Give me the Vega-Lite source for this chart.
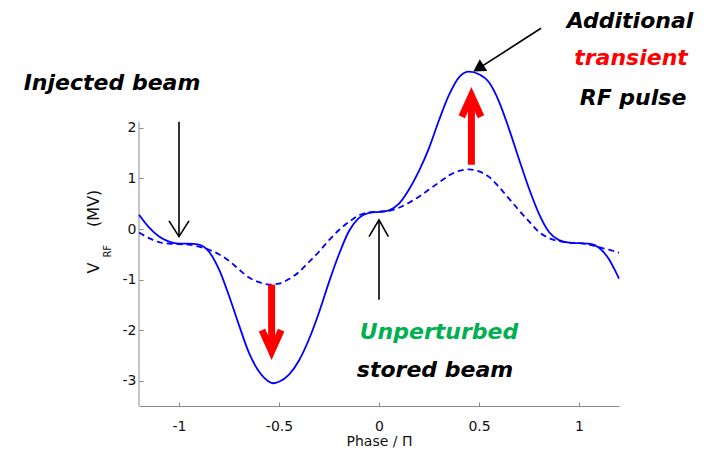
{
  "$schema": "https://vega.github.io/schema/vega-lite/v6.json",
  "width": 480,
  "height": 354,
  "autosize": {"type": "none"},
  "padding": {"left": 139, "top": 52, "right": 90, "bottom": 49},
  "background": "white",
  "config": {
    "view": {"stroke": null},
    "axis": {"grid": false, "labelFont": "DejaVu Sans", "titleFont": "DejaVu Sans", "labelColor": "#111", "titleColor": "#111", "labelFontSize": 14, "titleFontSize": 14, "titleFontWeight": "normal", "domainColor": "#8a8a8a", "tickColor": "#8a8a8a"}
  },
  "datasets": {
    "curves": [
      {"x": -1.2, "y": 0.28, "s": "solid"}, {"x": -1.15, "y": 0.03, "s": "solid"}, {"x": -1.1, "y": -0.15, "s": "solid"}, {"x": -1.05, "y": -0.25, "s": "solid"}, {"x": -1.0, "y": -0.29, "s": "solid"}, {"x": -0.95, "y": -0.29, "s": "solid"}, {"x": -0.9, "y": -0.31, "s": "solid"}, {"x": -0.85, "y": -0.45, "s": "solid"}, {"x": -0.8, "y": -0.8, "s": "solid"}, {"x": -0.75, "y": -1.32, "s": "solid"}, {"x": -0.7, "y": -1.9, "s": "solid"}, {"x": -0.65, "y": -2.45, "s": "solid"}, {"x": -0.6, "y": -2.82, "s": "solid"}, {"x": -0.55, "y": -3.02, "s": "solid"}, {"x": -0.53, "y": -3.05, "s": "solid"}, {"x": -0.5, "y": -3.02, "s": "solid"}, {"x": -0.45, "y": -2.88, "s": "solid"}, {"x": -0.4, "y": -2.6, "s": "solid"}, {"x": -0.35, "y": -2.18, "s": "solid"}, {"x": -0.3, "y": -1.65, "s": "solid"}, {"x": -0.25, "y": -1.05, "s": "solid"}, {"x": -0.2, "y": -0.5, "s": "solid"}, {"x": -0.15, "y": -0.04, "s": "solid"}, {"x": -0.1, "y": 0.22, "s": "solid"}, {"x": -0.05, "y": 0.32, "s": "solid"}, {"x": 0.0, "y": 0.34, "s": "solid"}, {"x": 0.05, "y": 0.37, "s": "solid"}, {"x": 0.1, "y": 0.5, "s": "solid"}, {"x": 0.15, "y": 0.78, "s": "solid"}, {"x": 0.2, "y": 1.15, "s": "solid"}, {"x": 0.25, "y": 1.6, "s": "solid"}, {"x": 0.3, "y": 2.15, "s": "solid"}, {"x": 0.35, "y": 2.65, "s": "solid"}, {"x": 0.4, "y": 3.0, "s": "solid"}, {"x": 0.45, "y": 3.11, "s": "solid"}, {"x": 0.5, "y": 3.06, "s": "solid"}, {"x": 0.55, "y": 2.9, "s": "solid"}, {"x": 0.6, "y": 2.52, "s": "solid"}, {"x": 0.65, "y": 1.98, "s": "solid"}, {"x": 0.7, "y": 1.38, "s": "solid"}, {"x": 0.75, "y": 0.8, "s": "solid"}, {"x": 0.8, "y": 0.3, "s": "solid"}, {"x": 0.85, "y": -0.06, "s": "solid"}, {"x": 0.9, "y": -0.22, "s": "solid"}, {"x": 0.95, "y": -0.27, "s": "solid"}, {"x": 1.0, "y": -0.28, "s": "solid"}, {"x": 1.05, "y": -0.29, "s": "solid"}, {"x": 1.1, "y": -0.37, "s": "solid"}, {"x": 1.15, "y": -0.6, "s": "solid"}, {"x": 1.175, "y": -0.78, "s": "solid"}, {"x": 1.2, "y": -0.98, "s": "solid"},
      {"x": -1.2, "y": -0.07, "s": "dashed"}, {"x": -1.15, "y": -0.18, "s": "dashed"}, {"x": -1.1, "y": -0.26, "s": "dashed"}, {"x": -1.05, "y": -0.29, "s": "dashed"}, {"x": -1.0, "y": -0.3, "s": "dashed"}, {"x": -0.95, "y": -0.31, "s": "dashed"}, {"x": -0.9, "y": -0.35, "s": "dashed"}, {"x": -0.85, "y": -0.41, "s": "dashed"}, {"x": -0.8, "y": -0.5, "s": "dashed"}, {"x": -0.75, "y": -0.63, "s": "dashed"}, {"x": -0.7, "y": -0.8, "s": "dashed"}, {"x": -0.65, "y": -0.96, "s": "dashed"}, {"x": -0.6, "y": -1.05, "s": "dashed"}, {"x": -0.55, "y": -1.1, "s": "dashed"}, {"x": -0.5, "y": -1.08, "s": "dashed"}, {"x": -0.45, "y": -0.99, "s": "dashed"}, {"x": -0.4, "y": -0.85, "s": "dashed"}, {"x": -0.35, "y": -0.65, "s": "dashed"}, {"x": -0.3, "y": -0.45, "s": "dashed"}, {"x": -0.25, "y": -0.22, "s": "dashed"}, {"x": -0.2, "y": -0.02, "s": "dashed"}, {"x": -0.15, "y": 0.14, "s": "dashed"}, {"x": -0.1, "y": 0.27, "s": "dashed"}, {"x": -0.05, "y": 0.33, "s": "dashed"}, {"x": 0.0, "y": 0.34, "s": "dashed"}, {"x": 0.05, "y": 0.36, "s": "dashed"}, {"x": 0.1, "y": 0.42, "s": "dashed"}, {"x": 0.15, "y": 0.52, "s": "dashed"}, {"x": 0.2, "y": 0.64, "s": "dashed"}, {"x": 0.25, "y": 0.78, "s": "dashed"}, {"x": 0.3, "y": 0.92, "s": "dashed"}, {"x": 0.35, "y": 1.06, "s": "dashed"}, {"x": 0.4, "y": 1.15, "s": "dashed"}, {"x": 0.45, "y": 1.18, "s": "dashed"}, {"x": 0.5, "y": 1.14, "s": "dashed"}, {"x": 0.55, "y": 1.03, "s": "dashed"}, {"x": 0.6, "y": 0.83, "s": "dashed"}, {"x": 0.65, "y": 0.6, "s": "dashed"}, {"x": 0.7, "y": 0.37, "s": "dashed"}, {"x": 0.75, "y": 0.15, "s": "dashed"}, {"x": 0.8, "y": -0.06, "s": "dashed"}, {"x": 0.85, "y": -0.18, "s": "dashed"}, {"x": 0.9, "y": -0.24, "s": "dashed"}, {"x": 0.95, "y": -0.27, "s": "dashed"}, {"x": 1.0, "y": -0.28, "s": "dashed"}, {"x": 1.05, "y": -0.31, "s": "dashed"}, {"x": 1.1, "y": -0.36, "s": "dashed"}, {"x": 1.15, "y": -0.41, "s": "dashed"}, {"x": 1.2, "y": -0.47, "s": "dashed"}
    ],
    "arrows": [
      {"seg": "b1s", "kind": "black", "o": 1, "x": -1.0, "y": 2.12}, {"seg": "b1s", "kind": "black", "o": 2, "x": -1.0, "y": -0.15},
      {"seg": "b1h", "kind": "black", "o": 1, "x": -1.05, "y": 0.16}, {"seg": "b1h", "kind": "black", "o": 2, "x": -1.0, "y": -0.15}, {"seg": "b1h", "kind": "black", "o": 3, "x": -0.95, "y": 0.16},
      {"seg": "b2s", "kind": "black", "o": 1, "x": 0.0, "y": -1.4}, {"seg": "b2s", "kind": "black", "o": 2, "x": 0.0, "y": 0.18},
      {"seg": "b2h", "kind": "black", "o": 1, "x": -0.05, "y": -0.15}, {"seg": "b2h", "kind": "black", "o": 2, "x": 0.0, "y": 0.18}, {"seg": "b2h", "kind": "black", "o": 3, "x": 0.047, "y": -0.15},
      {"seg": "b3s", "kind": "black", "o": 1, "x": 0.81, "y": 3.97}, {"seg": "b3s", "kind": "black", "o": 2, "x": 0.5, "y": 3.18},
      {"seg": "r1s", "kind": "red", "o": 1, "x": -0.537, "y": -1.1}, {"seg": "r1s", "kind": "red", "o": 2, "x": -0.537, "y": -2.4},
      {"seg": "r1h", "kind": "red", "o": 1, "x": -0.585, "y": -2.0}, {"seg": "r1h", "kind": "red", "o": 2, "x": -0.537, "y": -2.42}, {"seg": "r1h", "kind": "red", "o": 3, "x": -0.489, "y": -2.0},
      {"seg": "r2s", "kind": "red", "o": 1, "x": 0.462, "y": 1.27}, {"seg": "r2s", "kind": "red", "o": 2, "x": 0.462, "y": 2.62},
      {"seg": "r2h", "kind": "red", "o": 1, "x": 0.414, "y": 2.22}, {"seg": "r2h", "kind": "red", "o": 2, "x": 0.462, "y": 2.64}, {"seg": "r2h", "kind": "red", "o": 3, "x": 0.51, "y": 2.22}
    ],
    "heads": [
      {"x": 0.497, "y": 3.176}
    ],
    "labels": [
      {"t": "Injected beam", "x": -1.335, "y": 2.75, "c": "black"},
      {"t": "Additional", "x": 1.255, "y": 3.98, "c": "black"},
      {"t": "transient", "x": 1.26, "y": 3.25, "c": "red"},
      {"t": "RF pulse", "x": 1.27, "y": 2.45, "c": "black"},
      {"t": "Unperturbed", "x": 0.3, "y": -2.17, "c": "green"},
      {"t": "stored beam", "x": 0.28, "y": -2.92, "c": "black"}
    ],
    "ytitle": [
      {"t": "V", "x": -1.425, "y": -0.77, "k": "main"},
      {"t": "RF", "x": -1.3575, "y": -0.44, "k": "sub"},
      {"t": "(MV)", "x": -1.425, "y": 0.41, "k": "main"}
    ],
    "yaxis": [
      {"x": -1.2, "y": -3.5}, {"x": -1.2, "y": 2.12}
    ]
  },
  "encoding": {
    "x": {"field": "x", "type": "quantitative", "scale": {"domain": [-1.2, 1.2], "nice": false, "zero": false}, "axis": {"values": [-1, -0.5, 0, 0.5, 1], "title": "Phase / Π", "tickSize": -4, "labelPadding": 17, "titlePadding": 1, "labelExpr": "'' + datum.value"}},
    "y": {"field": "y", "type": "quantitative", "scale": {"domain": [-3.5, 3.5], "nice": false, "zero": false}, "axis": {"values": [-3, -2, -1, 0, 1, 2], "title": null, "tickSize": -4, "labelPadding": 7, "domain": false, "labelExpr": "'' + datum.value"}}
  },
  "layer": [
    {"data": {"name": "yaxis"}, "mark": {"type": "line", "color": "#8a8a8a", "strokeWidth": 1, "clip": false}, "encoding": {}},
    {"data": {"name": "curves"}, "transform": [{"filter": "datum.s === 'dashed'"}], "mark": {"type": "line", "color": "#0000ff", "strokeWidth": 1.8, "strokeDash": [6, 4], "interpolate": "monotone"}, "encoding": {}},
    {"data": {"name": "curves"}, "transform": [{"filter": "datum.s === 'solid'"}], "mark": {"type": "line", "color": "#0000ff", "strokeWidth": 1.8, "interpolate": "monotone"}, "encoding": {}},
    {"data": {"name": "arrows"}, "transform": [{"filter": "datum.kind === 'black'"}], "mark": {"type": "line", "color": "#000000", "strokeWidth": 1.6, "clip": false}, "encoding": {"detail": {"field": "seg"}, "order": {"field": "o"}}},
    {"data": {"name": "arrows"}, "transform": [{"filter": "datum.kind === 'red'"}], "mark": {"type": "line", "color": "#ff0000", "strokeWidth": 7, "strokeJoin": "miter", "strokeCap": "butt", "clip": false}, "encoding": {"detail": {"field": "seg"}, "order": {"field": "o"}}},
    {"data": {"name": "heads"}, "mark": {"type": "point", "shape": "triangle-up", "filled": true, "color": "#000000", "size": 196, "angle": 237.7, "opacity": 1, "clip": false}, "encoding": {}},
    {"data": {"name": "labels"}, "mark": {"type": "text", "font": "DejaVu Sans", "fontSize": 22, "fontWeight": "bold", "fontStyle": "italic", "align": "center", "baseline": "alphabetic", "clip": false}, "encoding": {"text": {"field": "t"}, "color": {"field": "c", "type": "nominal", "scale": {"domain": ["black", "red", "green"], "range": ["#000000", "#ff0000", "#00b050"]}, "legend": null}}},
    {"data": {"name": "ytitle"}, "transform": [{"filter": "datum.k === 'main'"}], "mark": {"type": "text", "font": "DejaVu Sans", "fontSize": 16, "angle": 270, "align": "center", "baseline": "middle", "color": "#111", "clip": false}, "encoding": {"text": {"field": "t"}}},
    {"data": {"name": "ytitle"}, "transform": [{"filter": "datum.k === 'sub'"}], "mark": {"type": "text", "font": "DejaVu Sans", "fontSize": 10, "angle": 270, "align": "center", "baseline": "middle", "color": "#111", "clip": false}, "encoding": {"text": {"field": "t"}}}
  ]
}
